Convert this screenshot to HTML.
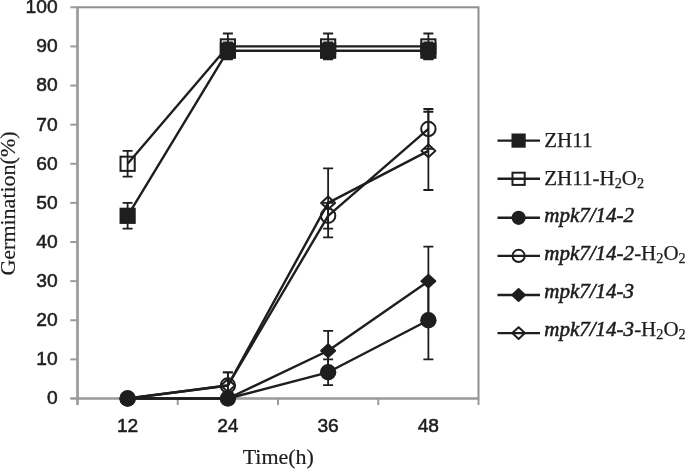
<!DOCTYPE html>
<html><head><meta charset="utf-8"><style>
html,body{margin:0;padding:0;background:#fff;}
body{width:685px;height:469px;overflow:hidden;}
svg{display:block;}
text{filter:grayscale(1);}
.tk{font-family:"Liberation Sans",sans-serif;font-size:19.2px;fill:#1f1d1e;stroke:#1f1d1e;stroke-width:0.55px;}
.lg{font-family:"Liberation Serif",serif;font-size:21px;fill:#1f1d1e;stroke:#1f1d1e;stroke-width:0.25px;}
.it{font-style:italic;stroke:#1f1d1e;stroke-width:0.55px;}
.sub{font-size:14.2px;}
.ti{font-family:"Liberation Serif",serif;font-size:22px;fill:#1f1d1e;stroke:#1f1d1e;stroke-width:0.2px;}
</style></head><body>
<svg width="685" height="469" viewBox="0 0 685 469">
<rect x="77.50" y="7.30" width="401.00" height="391.20" fill="none" stroke="#8e8f94" stroke-width="2"/>
<line x1="77.5" y1="6.3" x2="77.5" y2="405.0" stroke="#9a9ba0" stroke-width="2.4"/>
<line x1="70.5" y1="398.5" x2="478.5" y2="398.5" stroke="#9a9ba0" stroke-width="2"/>
<line x1="70.3" y1="398.50" x2="77.5" y2="398.50" stroke="#9a9ba0" stroke-width="2"/>
<line x1="70.3" y1="359.38" x2="77.5" y2="359.38" stroke="#9a9ba0" stroke-width="2"/>
<line x1="70.3" y1="320.26" x2="77.5" y2="320.26" stroke="#9a9ba0" stroke-width="2"/>
<line x1="70.3" y1="281.14" x2="77.5" y2="281.14" stroke="#9a9ba0" stroke-width="2"/>
<line x1="70.3" y1="242.02" x2="77.5" y2="242.02" stroke="#9a9ba0" stroke-width="2"/>
<line x1="70.3" y1="202.90" x2="77.5" y2="202.90" stroke="#9a9ba0" stroke-width="2"/>
<line x1="70.3" y1="163.78" x2="77.5" y2="163.78" stroke="#9a9ba0" stroke-width="2"/>
<line x1="70.3" y1="124.66" x2="77.5" y2="124.66" stroke="#9a9ba0" stroke-width="2"/>
<line x1="70.3" y1="85.54" x2="77.5" y2="85.54" stroke="#9a9ba0" stroke-width="2"/>
<line x1="70.3" y1="46.42" x2="77.5" y2="46.42" stroke="#9a9ba0" stroke-width="2"/>
<line x1="70.3" y1="7.30" x2="77.5" y2="7.30" stroke="#9a9ba0" stroke-width="2"/>
<line x1="77.50" y1="398.5" x2="77.50" y2="405.0" stroke="#9a9ba0" stroke-width="2"/>
<line x1="177.75" y1="398.5" x2="177.75" y2="405.0" stroke="#9a9ba0" stroke-width="2"/>
<line x1="278.00" y1="398.5" x2="278.00" y2="405.0" stroke="#9a9ba0" stroke-width="2"/>
<line x1="378.25" y1="398.5" x2="378.25" y2="405.0" stroke="#9a9ba0" stroke-width="2"/>
<line x1="478.50" y1="398.5" x2="478.50" y2="405.0" stroke="#9a9ba0" stroke-width="2"/>
<text x="57.6" y="404.40" text-anchor="end" class="tk">0</text>
<text x="57.6" y="365.28" text-anchor="end" class="tk">10</text>
<text x="57.6" y="326.16" text-anchor="end" class="tk">20</text>
<text x="57.6" y="287.04" text-anchor="end" class="tk">30</text>
<text x="57.6" y="247.92" text-anchor="end" class="tk">40</text>
<text x="57.6" y="208.80" text-anchor="end" class="tk">50</text>
<text x="57.6" y="169.68" text-anchor="end" class="tk">60</text>
<text x="57.6" y="130.56" text-anchor="end" class="tk">70</text>
<text x="57.6" y="91.44" text-anchor="end" class="tk">80</text>
<text x="57.6" y="52.32" text-anchor="end" class="tk">90</text>
<text x="57.6" y="13.20" text-anchor="end" class="tk">100</text>
<text x="127.62" y="432.3" text-anchor="middle" class="tk">12</text>
<text x="227.88" y="432.3" text-anchor="middle" class="tk">24</text>
<text x="328.12" y="432.3" text-anchor="middle" class="tk">36</text>
<text x="428.38" y="432.3" text-anchor="middle" class="tk">48</text>
<polyline points="127.62,215.81 227.88,50.72 328.12,50.72 428.38,50.72" fill="none" stroke="#1f1d1e" stroke-width="2.4" stroke-linejoin="round"/>
<polyline points="127.62,163.78 227.88,46.42 328.12,46.42 428.38,46.42" fill="none" stroke="#1f1d1e" stroke-width="2.4" stroke-linejoin="round"/>
<polyline points="127.62,398.50 227.88,398.50 328.12,372.29 428.38,320.26" fill="none" stroke="#1f1d1e" stroke-width="2.4" stroke-linejoin="round"/>
<polyline points="127.62,398.50 227.88,385.47 328.12,215.81 428.38,128.96" fill="none" stroke="#1f1d1e" stroke-width="2.4" stroke-linejoin="round"/>
<polyline points="127.62,398.50 227.88,398.50 328.12,350.77 428.38,281.14" fill="none" stroke="#1f1d1e" stroke-width="2.4" stroke-linejoin="round"/>
<polyline points="127.62,398.50 227.88,385.47 328.12,202.90 428.38,150.87" fill="none" stroke="#1f1d1e" stroke-width="2.4" stroke-linejoin="round"/>
<path d="M127.62 202.90V228.72M122.62 202.90H132.62M122.62 228.72H132.62" stroke="#1f1d1e" stroke-width="1.8" fill="none"/>
<path d="M227.88 42.51V58.94M222.88 42.51H232.88M222.88 58.94H232.88" stroke="#1f1d1e" stroke-width="1.8" fill="none"/>
<path d="M328.12 42.51V58.94M323.12 42.51H333.12M323.12 58.94H333.12" stroke="#1f1d1e" stroke-width="1.8" fill="none"/>
<path d="M428.38 42.51V58.94M423.38 42.51H433.38M423.38 58.94H433.38" stroke="#1f1d1e" stroke-width="1.8" fill="none"/>
<path d="M127.62 150.87V176.69M122.62 150.87H132.62M122.62 176.69H132.62" stroke="#1f1d1e" stroke-width="1.8" fill="none"/>
<path d="M227.88 33.51V59.33M222.88 33.51H232.88M222.88 59.33H232.88" stroke="#1f1d1e" stroke-width="1.8" fill="none"/>
<path d="M328.12 33.51V59.33M323.12 33.51H333.12M323.12 59.33H333.12" stroke="#1f1d1e" stroke-width="1.8" fill="none"/>
<path d="M428.38 33.51V59.33M423.38 33.51H433.38M423.38 59.33H433.38" stroke="#1f1d1e" stroke-width="1.8" fill="none"/>
<path d="M328.12 359.38V385.20M323.12 359.38H333.12M323.12 385.20H333.12" stroke="#1f1d1e" stroke-width="1.8" fill="none"/>
<path d="M428.38 281.14V359.38M423.38 281.14H433.38M423.38 359.38H433.38" stroke="#1f1d1e" stroke-width="1.8" fill="none"/>
<path d="M227.88 372.45V398.50M222.88 372.45H232.88M222.88 398.50H232.88" stroke="#1f1d1e" stroke-width="1.8" fill="none"/>
<path d="M328.12 202.90V228.72M323.12 202.90H333.12M323.12 228.72H333.12" stroke="#1f1d1e" stroke-width="1.8" fill="none"/>
<path d="M428.38 109.01V148.91M423.38 109.01H433.38M423.38 148.91H433.38" stroke="#1f1d1e" stroke-width="1.8" fill="none"/>
<path d="M328.12 330.82V370.72M323.12 330.82H333.12M323.12 370.72H333.12" stroke="#1f1d1e" stroke-width="1.8" fill="none"/>
<path d="M428.38 246.71V315.57M423.38 246.71H433.38M423.38 315.57H433.38" stroke="#1f1d1e" stroke-width="1.8" fill="none"/>
<path d="M227.88 372.45V398.50M222.88 372.45H232.88M222.88 398.50H232.88" stroke="#1f1d1e" stroke-width="1.8" fill="none"/>
<path d="M328.12 168.47V237.33M323.12 168.47H333.12M323.12 237.33H333.12" stroke="#1f1d1e" stroke-width="1.8" fill="none"/>
<path d="M428.38 111.75V189.99M423.38 111.75H433.38M423.38 189.99H433.38" stroke="#1f1d1e" stroke-width="1.8" fill="none"/>
<rect x="119.53" y="207.71" width="16.20" height="16.20" fill="#1f1d1e"/>
<rect x="219.78" y="42.62" width="16.20" height="16.20" fill="#1f1d1e"/>
<rect x="320.02" y="42.62" width="16.20" height="16.20" fill="#1f1d1e"/>
<rect x="420.27" y="42.62" width="16.20" height="16.20" fill="#1f1d1e"/>
<rect x="120.53" y="156.68" width="14.20" height="14.20" fill="none" stroke="#1f1d1e" stroke-width="2"/>
<rect x="220.78" y="39.32" width="14.20" height="14.20" fill="none" stroke="#1f1d1e" stroke-width="2"/>
<rect x="321.02" y="39.32" width="14.20" height="14.20" fill="none" stroke="#1f1d1e" stroke-width="2"/>
<rect x="421.27" y="39.32" width="14.20" height="14.20" fill="none" stroke="#1f1d1e" stroke-width="2"/>
<circle cx="127.62" cy="398.50" r="8.20" fill="#1f1d1e"/>
<circle cx="227.88" cy="398.50" r="8.20" fill="#1f1d1e"/>
<circle cx="328.12" cy="372.29" r="8.20" fill="#1f1d1e"/>
<circle cx="428.38" cy="320.26" r="8.20" fill="#1f1d1e"/>
<circle cx="127.62" cy="398.50" r="7.20" fill="none" stroke="#1f1d1e" stroke-width="2"/>
<circle cx="227.88" cy="385.47" r="7.20" fill="none" stroke="#1f1d1e" stroke-width="2"/>
<circle cx="328.12" cy="215.81" r="7.20" fill="none" stroke="#1f1d1e" stroke-width="2"/>
<circle cx="428.38" cy="128.96" r="7.20" fill="none" stroke="#1f1d1e" stroke-width="2"/>
<path d="M120.53 398.50L127.62 392.00L134.72 398.50L127.62 405.00Z" fill="#1f1d1e" stroke="#1f1d1e" stroke-width="1.8" stroke-linejoin="round"/>
<path d="M220.78 398.50L227.88 392.00L234.97 398.50L227.88 405.00Z" fill="#1f1d1e" stroke="#1f1d1e" stroke-width="1.8" stroke-linejoin="round"/>
<path d="M321.02 350.77L328.12 344.27L335.23 350.77L328.12 357.27Z" fill="#1f1d1e" stroke="#1f1d1e" stroke-width="1.8" stroke-linejoin="round"/>
<path d="M421.27 281.14L428.38 274.64L435.48 281.14L428.38 287.64Z" fill="#1f1d1e" stroke="#1f1d1e" stroke-width="1.8" stroke-linejoin="round"/>
<path d="M120.62 398.50L127.62 392.10L134.62 398.50L127.62 404.90Z" fill="none" stroke="#1f1d1e" stroke-width="2" stroke-linejoin="round"/>
<path d="M220.88 385.47L227.88 379.07L234.88 385.47L227.88 391.87Z" fill="none" stroke="#1f1d1e" stroke-width="2" stroke-linejoin="round"/>
<path d="M321.12 202.90L328.12 196.50L335.12 202.90L328.12 209.30Z" fill="none" stroke="#1f1d1e" stroke-width="2" stroke-linejoin="round"/>
<path d="M421.38 150.87L428.38 144.47L435.38 150.87L428.38 157.27Z" fill="none" stroke="#1f1d1e" stroke-width="2" stroke-linejoin="round"/>
<line x1="497.5" y1="140.60" x2="540.0" y2="140.60" stroke="#1f1d1e" stroke-width="2.4"/>
<rect x="511.50" y="133.50" width="14.20" height="14.20" fill="#1f1d1e"/>
<text x="544.3" y="146.80" class="lg"><tspan>ZH11</tspan></text>
<line x1="497.5" y1="178.80" x2="540.0" y2="178.80" stroke="#1f1d1e" stroke-width="2.4"/>
<rect x="512.50" y="172.70" width="12.20" height="12.20" fill="none" stroke="#1f1d1e" stroke-width="2"/>
<text x="544.3" y="184.50" class="lg"><tspan>ZH11-H</tspan><tspan class="sub" dy="3.2">2</tspan><tspan dy="-3.2">O</tspan><tspan class="sub" dy="3.2">2</tspan></text>
<line x1="497.5" y1="217.80" x2="540.0" y2="217.80" stroke="#1f1d1e" stroke-width="2.4"/>
<circle cx="518.60" cy="217.80" r="7.10" fill="#1f1d1e"/>
<text x="544.3" y="222.10" class="lg"><tspan class="it">mpk7/14-2</tspan></text>
<line x1="497.5" y1="255.90" x2="540.0" y2="255.90" stroke="#1f1d1e" stroke-width="2.4"/>
<circle cx="518.60" cy="255.90" r="6.10" fill="none" stroke="#1f1d1e" stroke-width="2"/>
<text x="544.3" y="259.90" class="lg"><tspan class="it">mpk7/14-2</tspan><tspan>-H</tspan><tspan class="sub" dy="3.2">2</tspan><tspan dy="-3.2">O</tspan><tspan class="sub" dy="3.2">2</tspan></text>
<line x1="497.5" y1="295.00" x2="540.0" y2="295.00" stroke="#1f1d1e" stroke-width="2.4"/>
<path d="M512.20 295.00L518.60 289.00L525.00 295.00L518.60 301.00Z" fill="#1f1d1e" stroke="#1f1d1e" stroke-width="1.8" stroke-linejoin="round"/>
<text x="544.3" y="297.80" class="lg"><tspan class="it">mpk7/14-3</tspan></text>
<line x1="497.5" y1="333.10" x2="540.0" y2="333.10" stroke="#1f1d1e" stroke-width="2.4"/>
<path d="M512.30 333.10L518.60 327.20L524.90 333.10L518.60 339.00Z" fill="none" stroke="#1f1d1e" stroke-width="2" stroke-linejoin="round"/>
<text x="544.3" y="335.50" class="lg"><tspan class="it">mpk7/14-3</tspan><tspan>-H</tspan><tspan class="sub" dy="3.2">2</tspan><tspan dy="-3.2">O</tspan><tspan class="sub" dy="3.2">2</tspan></text>
<text x="278.3" y="464.2" text-anchor="middle" class="ti">Time(h)</text>
<text transform="translate(15.4 203.5) rotate(-90)" text-anchor="middle" class="ti">Germination(%)</text>
</svg>
</body></html>
